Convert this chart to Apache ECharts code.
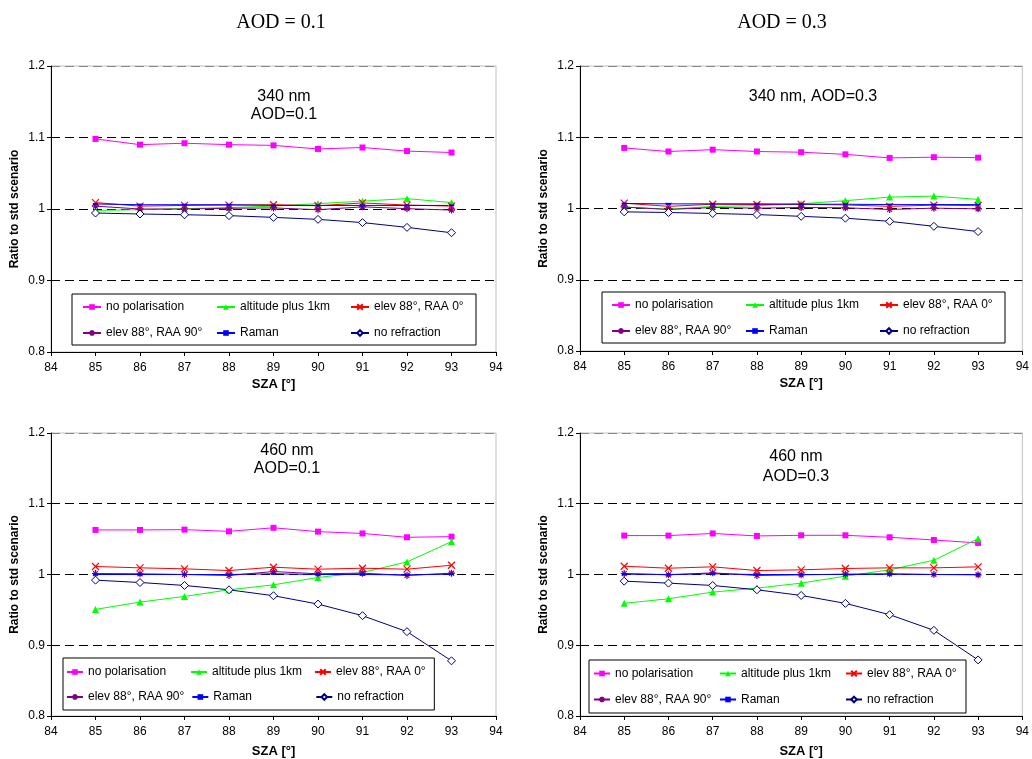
<!DOCTYPE html>
<html>
<head>
<meta charset="utf-8">
<script src="https://cdn.jsdelivr.net/npm/echarts@6/dist/echarts.min.js"></script>
<style>
  html, body { margin: 0; padding: 0; background: #fff; }
  #chart { width: 1032px; height: 759px; }
</style>
</head>
<body>
<div id="chart"></div>
<script>
const chart = echarts.init(document.getElementById('chart'));

// SZA [°]
const sza = [85, 86, 87, 88, 89, 90, 91, 92, 93];
const yTicks = [0.8, 0.9, 1.0, 1.1, 1.2];
const seriesNames = ['no polarisation', 'altitude plus 1km', 'elev 88°, RAA 0°',
  'elev 88°, RAA 90°', 'Raman', 'no refraction'];

// 340 nm, AOD=0.1
const noPol340a = [1.098, 1.090, 1.092, 1.090, 1.089, 1.084, 1.086, 1.081, 1.079];
const alt340a = [0.998, 0.999, 1.0005, 1.002, 1.004, 1.0075, 1.011, 1.0145, 1.009];
const raa0340a = [1.009, 1.004, 1.005, 1.0055, 1.006, 1.0045, 1.0085, 1.0055, 1.004];
const raa90340a = [1.004, 1.000, 1.000, 1.001, 1.0015, 0.999, 1.003, 1.0005, 0.9985];
const raman340a = [1.007, 1.006, 1.006, 1.006, 1.005, 1.005, 1.005, 1.005, 1.005];
const noRef340a = [0.9944, 0.993, 0.992, 0.9907, 0.9883, 0.9855, 0.981, 0.9743, 0.9668];

// 340 nm, AOD=0.3
const noPol340b = [1.085, 1.080, 1.0826, 1.080, 1.079, 1.076, 1.071, 1.072, 1.0714];
const alt340b = [1.002, 0.999, 1.003, 1.004, 1.0066, 1.011, 1.016, 1.0174, 1.0127];
const raa0340b = [1.0075, 1.003, 1.006, 1.0056, 1.006, 1.005, 1.003, 1.0047, 1.004];
const raa90340b = [1.002, 0.9986, 1.0014, 1.0005, 1.0014, 1.001, 0.9986, 1.0005, 0.9995];
const raman340b = [1.007, 1.0065, 1.0065, 1.0065, 1.006, 1.006, 1.0055, 1.0055, 1.0055];
const noRef340b = [0.9953, 0.9944, 0.993, 0.9915, 0.989, 0.9864, 0.982, 0.975, 0.9676];

// 460 nm, AOD=0.1
const noPol460a = [1.063, 1.063, 1.0634, 1.061, 1.066, 1.0606, 1.058, 1.0526, 1.0535];
const alt460a = [0.9507, 0.961, 0.969, 0.9784, 0.9854, 0.9958, 1.0028, 1.0178, 1.0465];
const raa0460a = [1.0113, 1.0094, 1.008, 1.0056, 1.0103, 1.0075, 1.0089, 1.0075, 1.0131];
const raa90460a = [1.0014, 1.001, 1.000, 0.9986, 1.0042, 1.001, 1.0019, 0.9986, 1.0019];
const raman460a = [1.000, 1.000, 1.000, 1.000, 1.001, 1.000, 1.000, 0.9995, 1.0005];
const noRef460a = [0.992, 0.9887, 0.9845, 0.9784, 0.970, 0.9582, 0.9418, 0.9192, 0.878];

// 460 nm, AOD=0.3
const noPol460b = [1.055, 1.055, 1.058, 1.0545, 1.0554, 1.0554, 1.0526, 1.0488, 1.0446];
const alt460b = [0.9592, 0.9657, 0.9751, 0.9808, 0.9878, 0.9977, 1.0066, 1.0202, 1.0507];
const raa0460b = [1.0117, 1.0089, 1.0108, 1.0056, 1.0066, 1.0085, 1.0094, 1.0094, 1.0108];
const raa90460b = [1.0014, 0.9995, 1.0023, 0.9986, 0.9995, 1.0005, 1.0009, 1.000, 0.9995];
const raman460b = [1.0005, 1.000, 1.001, 1.000, 1.000, 1.000, 1.0005, 1.000, 1.000];
const noRef460b = [0.9906, 0.9878, 0.9845, 0.9784, 0.9704, 0.9592, 0.9432, 0.9211, 0.8793];

const FONT = "'Liberation Sans', Arial, sans-serif";

// 每个小图的位置与图例
const panels = [
  { grid: { left: 51, top: 66, width: 445, height: 286 },
    title: { text: '340 nm\nAOD=0.1', left: 279, top: 83, lineHeight: 18 },
    legend: { left: 72, top: 294, padding: [5, 2, 4, 10], iw: 18, tw: 100, gap: 10, lh: 16 },
    xNameGap: 26,
    data: [noPol340a, alt340a, raa0340a, raa90340a, raman340a, noRef340a] },
  { grid: { left: 580, top: 66, width: 444, height: 285 },
    title: { text: '340 nm, AOD=0.3', left: 808, top: 83, lineHeight: 18 },
    legend: { left: 602, top: 292, padding: [5, 2, 4, 9], iw: 18, tw: 100, gap: 10, lh: 16 },
    xNameGap: 26,
    data: [noPol340b, alt340b, raa0340b, raa90340b, raman340b, noRef340b] },
  { grid: { left: 51, top: 433, width: 445, height: 283 },
    title: { text: '460 nm\nAOD=0.1', left: 282, top: 437, lineHeight: 18 },
    legend: { left: 63, top: 658, padding: [5, 2, 4, 3], iw: 16, tw: 95, gap: 7, lh: 18 },
    xNameGap: 29,
    data: [noPol460a, alt460a, raa0460a, raa90460a, raman460a, noRef460a] },
  { grid: { left: 580, top: 433, width: 444, height: 284 },
    title: { text: '460 nm\nAOD=0.3', left: 791, top: 442, lineHeight: 20 },
    legend: { left: 589, top: 660, padding: [4, 2, 4, 4], iw: 16, tw: 97, gap: 7, lh: 19 },
    xNameGap: 29,
    data: [noPol460b, alt460b, raa0460b, raa90460b, raman460b, noRef460b] }
];

// 各系列样式
const styles = [
  { line: '#ff00ff', symbol: 'rect', size: 6, item: { color: '#ff00ff' } },
  { line: '#00ff00', symbol: 'triangle', size: 7, item: { color: '#00ff00' } },
  { line: '#ff0000', symbol: 'path://M0,0L10,10M10,0L0,10', size: 7,
    item: { color: 'none', borderColor: '#ff0000', borderWidth: 1.2 } },
  { line: '#800080', symbol: 'path://M0,5L10,5M5,0L5,10M1.5,1.5L8.5,8.5M8.5,1.5L1.5,8.5', size: 7,
    item: { color: 'none', borderColor: '#800080', borderWidth: 1.2 } },
  { line: '#0000ff', symbol: 'rect', size: [5, 2], item: { color: '#0000ff' } },
  { line: '#000080', symbol: 'diamond', size: 8,
    item: { color: '#ffffff', borderColor: '#000080', borderWidth: 1 } }
];

const option = {
  backgroundColor: '#fff',
  animation: false,
  title: [
    { text: 'AOD = 0.1', left: 276, top: 8, textAlign: 'center',
      textStyle: { fontFamily: "'Liberation Serif', 'Times New Roman', serif", fontSize: 20, fontWeight: 'normal', color: '#000' } },
    { text: 'AOD = 0.3', left: 777, top: 8, textAlign: 'center',
      textStyle: { fontFamily: "'Liberation Serif', 'Times New Roman', serif", fontSize: 20, fontWeight: 'normal', color: '#000' } }
  ],
  grid: [], xAxis: [], yAxis: [], legend: [], series: []
};

panels.forEach(function (p, gi) {
  option.grid.push(Object.assign({ show: true, borderColor: '#c0c0c0', borderWidth: 1, backgroundColor: '#fff' }, p.grid));
  option.title.push({
    text: p.title.text, left: p.title.left, top: p.title.top, textAlign: 'center',
    textStyle: { fontFamily: FONT, fontSize: 16, fontWeight: 'normal', color: '#000', lineHeight: p.title.lineHeight }
  });
  option.xAxis.push({
    gridIndex: gi, type: 'value', min: 84, max: 94, interval: 1,
    name: 'SZA [°]', nameLocation: 'middle', nameGap: p.xNameGap,
    nameTextStyle: { fontFamily: FONT, fontSize: 13, fontWeight: 'bold', color: '#000' },
    axisLine: { show: true, onZero: false, lineStyle: { color: '#000', width: 1 } },
    axisTick: { show: true, inside: false, length: 4, lineStyle: { color: '#000' } },
    axisLabel: { fontFamily: FONT, fontSize: 12, color: '#000', margin: 10 },
    splitLine: { show: false }
  });
  option.yAxis.push({
    gridIndex: gi, type: 'value', min: yTicks[0], max: yTicks[yTicks.length - 1], interval: 0.1,
    name: 'Ratio to std scenario', nameLocation: 'middle', nameGap: 30, nameRotate: 90,
    nameTextStyle: { fontFamily: FONT, fontSize: 12, fontWeight: 'bold', color: '#000' },
    axisLine: { show: true, lineStyle: { color: '#000', width: 1 } },
    axisTick: { show: true, inside: false, length: 4, lineStyle: { color: '#000' } },
    axisLabel: {
      fontFamily: FONT, fontSize: 12, color: '#000', margin: 6,
      formatter: function (v) { return String(Math.round(v * 10) / 10); }
    },
    splitLine: { show: true, lineStyle: { color: ['#000', '#000', '#000', '#000', '#888'], type: [9, 5], width: 1 } }
  });
  const L = p.legend;
  option.legend.push({
    data: seriesNames, orient: 'horizontal', left: L.left, top: L.top,
    width: 3 * (L.iw + 5 + L.tw) + 2 * L.gap + 24,
    itemWidth: L.iw, itemHeight: 7, itemGap: L.gap, padding: L.padding,
    borderColor: '#000', borderWidth: 1, backgroundColor: '#fff',
    selectedMode: false,
    textStyle: { fontFamily: FONT, fontSize: 12, color: '#000', width: L.tw, lineHeight: L.lh, height: L.lh }
  });
  p.data.forEach(function (vals, si) {
    const s = styles[si];
    option.series.push({
      name: seriesNames[si], type: 'line', xAxisIndex: gi, yAxisIndex: gi,
      data: sza.map(function (x, i) { return [x, vals[i]]; }),
      symbol: s.symbol, symbolSize: s.size, showAllSymbol: true,
      lineStyle: { color: s.line, width: 1 },
      itemStyle: s.item,
      emphasis: { disabled: true }
    });
  });
});

chart.setOption(option);
</script>
</body>
</html>
